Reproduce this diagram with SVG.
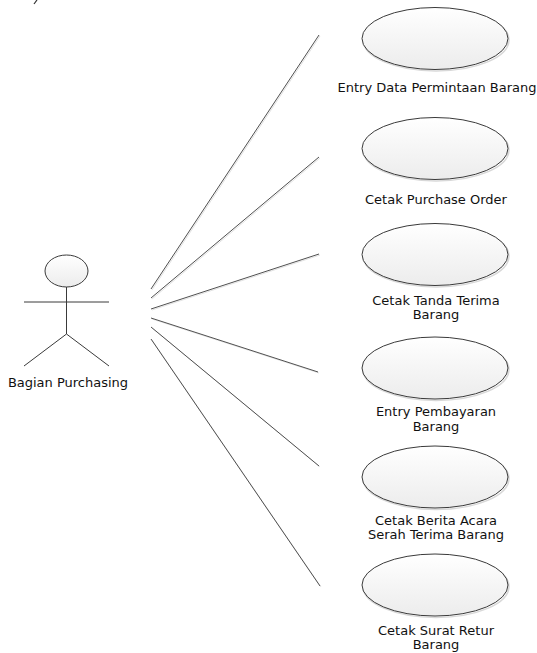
<svg xmlns="http://www.w3.org/2000/svg" width="537" height="653" viewBox="0 0 537 653">
  <defs>
    <linearGradient id="ucFill" x1="0" y1="0" x2="0" y2="1">
      <stop offset="0" stop-color="#ffffff"/>
      <stop offset="1" stop-color="#ececec"/>
    </linearGradient>
    <style>
      .uc { fill: url(#ucFill); stroke: #3a3a3a; stroke-width: 1; }
      .ucShadow { fill: none; stroke: #d8d8d8; stroke-width: 1.5; }
      .lbl { font-family: "DejaVu Sans", Verdana, sans-serif; font-size: 13px; fill: #111111; text-anchor: middle; }
      .assoc { stroke: #505050; stroke-width: 1; fill: none; }
      .assocShadow { stroke: #e2e2e2; stroke-width: 1; fill: none; }
      .actor { stroke: #3a3a3a; stroke-width: 1; fill: none; }
    </style>
  </defs>
  <rect width="537" height="653" fill="#ffffff"/>

  <!-- stray stroke at the top edge -->
  <line x1="37" y1="0" x2="34" y2="4" stroke="#333" stroke-width="1.2"/>

  <!-- associations between the actor and its use cases -->
  <g id="connectors">
    <g transform="translate(1,1)">
      <line class="assocShadow" x1="151" y1="289" x2="319" y2="35"/>
      <line class="assocShadow" x1="151" y1="298" x2="319" y2="157"/>
      <line class="assocShadow" x1="151" y1="309" x2="319" y2="254"/>
      <line class="assocShadow" x1="151" y1="318" x2="318" y2="372"/>
      <line class="assocShadow" x1="151" y1="327" x2="319" y2="466"/>
      <line class="assocShadow" x1="151" y1="339" x2="320" y2="586"/>
    </g>
    <line class="assoc" x1="151" y1="289" x2="319" y2="35"/>
    <line class="assoc" x1="151" y1="298" x2="319" y2="157"/>
    <line class="assoc" x1="151" y1="309" x2="319" y2="254"/>
    <line class="assoc" x1="151" y1="318" x2="318" y2="372"/>
    <line class="assoc" x1="151" y1="327" x2="319" y2="466"/>
    <line class="assoc" x1="151" y1="339" x2="320" y2="586"/>
  </g>

  <!-- actor -->
  <g id="actor-bagian-purchasing">
    <ellipse cx="66.5" cy="271" rx="21.5" ry="16" class="uc"/>
    <line class="actor" x1="66.5" y1="287" x2="66.5" y2="334"/>
    <line class="actor" x1="24" y1="302" x2="109" y2="302"/>
    <line class="actor" x1="66.5" y1="334" x2="24" y2="366"/>
    <line class="actor" x1="66.5" y1="334" x2="109" y2="366"/>
    <text class="lbl" x="68" y="387">Bagian Purchasing</text>
  </g>

  <!-- use cases -->
  <g id="uc-entry-data-permintaan">
    <ellipse class="ucShadow" cx="436" cy="40" rx="73" ry="31"/>
    <ellipse class="uc" cx="435" cy="38.5" rx="73" ry="31"/>
    <text class="lbl" x="437" y="92">Entry Data Permintaan Barang</text>
  </g>

  <g id="uc-cetak-purchase-order">
    <ellipse class="ucShadow" cx="436" cy="150" rx="73" ry="31"/>
    <ellipse class="uc" cx="435" cy="148.5" rx="73" ry="31"/>
    <text class="lbl" x="436" y="204">Cetak Purchase Order</text>
  </g>

  <g id="uc-cetak-tanda-terima">
    <ellipse class="ucShadow" cx="436" cy="256" rx="73" ry="31"/>
    <ellipse class="uc" cx="435" cy="254.5" rx="73" ry="31"/>
    <text class="lbl" x="436" y="305">Cetak Tanda Terima</text>
    <text class="lbl" x="436" y="319">Barang</text>
  </g>

  <g id="uc-entry-pembayaran">
    <ellipse class="ucShadow" cx="436" cy="369.5" rx="73" ry="31"/>
    <ellipse class="uc" cx="435" cy="368" rx="73" ry="31"/>
    <text class="lbl" x="436" y="416">Entry Pembayaran</text>
    <text class="lbl" x="436" y="431">Barang</text>
  </g>

  <g id="uc-cetak-berita-acara">
    <ellipse class="ucShadow" cx="436" cy="478.5" rx="73" ry="31"/>
    <ellipse class="uc" cx="435" cy="477" rx="73" ry="31"/>
    <text class="lbl" x="436" y="525">Cetak Berita Acara</text>
    <text class="lbl" x="436" y="539">Serah Terima Barang</text>
  </g>

  <g id="uc-cetak-surat-retur">
    <ellipse class="ucShadow" cx="436" cy="586.5" rx="73" ry="31"/>
    <ellipse class="uc" cx="435" cy="585" rx="73" ry="31"/>
    <text class="lbl" x="436" y="635">Cetak Surat Retur</text>
    <text class="lbl" x="436" y="649">Barang</text>
  </g>
</svg>
